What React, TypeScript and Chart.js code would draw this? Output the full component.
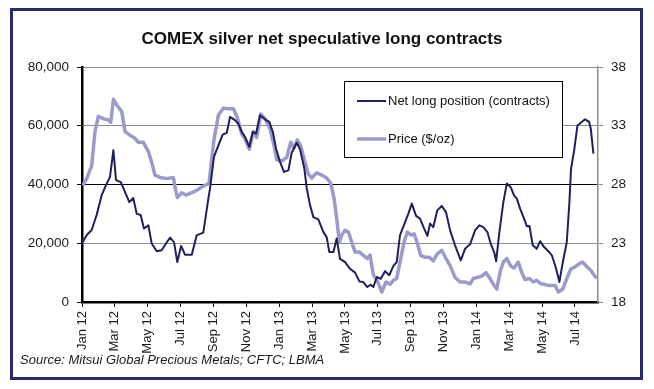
import React, { useEffect, useRef } from "react";
import { Chart, registerables } from "chart.js";

Chart.register(...registerables);

// X positions are months since Jan 2012 (0 = Jan 12)
const xTickMonths = [0, 2, 4, 6, 8, 10, 12, 14, 16, 18, 20, 22, 24, 26, 28, 30];
const xTickLabels = ["Jan 12", "Mar 12", "May 12", "Jul 12", "Sep 12", "Nov 12", "Jan 13", "Mar 13", "May 13", "Jul 13", "Sep 13", "Nov 13", "Jan 14", "Mar 14", "May 14", "Jul 14"];
const leftTicks = [0, 20000, 40000, 60000, 80000];
const rightTicks = [18, 23, 28, 33, 38];

const netMonths = [0, 0.29, 0.59, 0.89, 1.2, 1.46, 1.7, 1.91, 2.07, 2.36,
  2.62, 2.88, 3.12, 3.33, 3.57, 3.77, 4.04, 4.24, 4.55, 4.85,
  5.11, 5.36, 5.6, 5.8, 6.03, 6.27, 6.68, 6.98, 7.38, 7.69,
  7.79, 8.03, 8.3, 8.56, 8.81, 9.01, 9.31, 9.51, 9.72, 9.92,
  10.18, 10.39, 10.59, 10.83, 11.14, 11.4, 11.61, 11.81, 12.05, 12.29,
  12.56, 12.76, 13.07, 13.27, 13.53, 13.68, 13.88, 14.08, 14.38, 14.69,
  14.89, 15.05, 15.3, 15.5, 15.7, 16.01, 16.31, 16.62, 16.88, 17.12,
  17.36, 17.57, 17.73, 17.94, 18.18, 18.44, 18.7, 18.95, 19.15, 19.35,
  19.66, 19.86, 20.07, 20.33, 20.57, 20.82, 21.02, 21.18, 21.38, 21.62,
  21.89, 22.15, 22.4, 22.7, 23.05, 23.31, 23.62, 23.92, 24.18, 24.42,
  24.67, 24.87, 25.08, 25.2, 25.4, 25.64, 25.85, 26.09, 26.29, 26.46,
  26.66, 26.9, 27.07, 27.23, 27.43, 27.67, 27.88, 28.12, 28.38, 28.59,
  28.79, 28.93, 29.05, 29.26, 29.5, 29.66, 29.76, 29.95, 30.15, 30.41,
  30.61, 30.86, 30.96, 31.12];

const netLong = [20000, 22800, 24500, 29600, 36400, 39800, 42500, 51700, 41500, 40800,
  37400, 34000, 35400, 30000, 29600, 25000, 26100, 19900, 17300, 17600,
  19900, 21900, 20400, 13600, 19100, 16100, 16100, 22700, 23600, 35200,
  38600, 49400, 53300, 57000, 57600, 63000, 61900, 60700, 57900, 56200,
  52800, 57900, 57300, 63600, 62200, 61300, 57900, 52200, 47700, 44300,
  44800, 50800, 54200, 52000, 45400, 38600, 32900, 28900, 28100, 23800,
  22100, 17000, 17000, 21600, 14700, 13600, 11300, 10000, 7000, 6800,
  5100, 5900, 5100, 8500, 7900, 10500, 9100, 12300, 13600, 22700,
  27200, 30100, 33500, 29300, 28400, 25000, 22500, 26700, 25500, 31200,
  32700, 30600, 24400, 19300, 14200, 18100, 19700, 24400, 26100, 25500,
  23800, 19850, 17000, 13850, 23800, 34000, 40300, 39100, 36300, 35200,
  31800, 28400, 25800, 25900, 19300, 18100, 20700, 18700, 17300, 15900,
  12500, 9600, 6800, 13600, 20400, 34000, 45400, 51600, 60100, 61300,
  62200, 61300, 59000, 50500];

const priceMonths = [0.04, 0.29, 0.59, 0.79, 0.99, 1.3, 1.6, 1.75, 1.91, 2.15,
  2.42, 2.62, 2.92, 3.16, 3.43, 3.73, 4.04, 4.24, 4.44, 4.75,
  5.15, 5.56, 5.66, 5.8, 6.07, 6.33, 6.68, 6.98, 7.29, 7.59,
  7.73, 7.88, 8.03, 8.3, 8.6, 8.9, 9.21, 9.45, 9.72, 9.92,
  10.18, 10.43, 10.63, 10.88, 11.14, 11.44, 11.69, 11.85, 12.15, 12.46,
  12.7, 12.9, 13.1, 13.31, 13.51, 13.77, 13.98, 14.28, 14.59, 14.89,
  15.14, 15.34, 15.5, 15.66, 15.81, 16.01, 16.21, 16.41, 16.62, 16.88,
  17.12, 17.36, 17.53, 17.73, 17.97, 18.24, 18.5, 18.75, 18.95, 19.15,
  19.35, 19.6, 19.8, 20.01, 20.21, 20.41, 20.61, 20.88, 21.14, 21.38,
  21.62, 21.89, 22.15, 22.4, 22.7, 23.0, 23.31, 23.62, 23.82, 24.06,
  24.33, 24.59, 24.83, 25.08, 25.24, 25.44, 25.64, 25.85, 26.09, 26.29,
  26.55, 26.76, 26.96, 27.23, 27.47, 27.67, 27.91, 28.18, 28.38, 28.59,
  28.79, 28.99, 29.26, 29.5, 29.74, 30.01, 30.31, 30.47, 30.72, 30.96,
  31.16, 31.33];

const price = [27.9, 28.5, 29.6, 32.5, 33.8, 33.6, 33.5, 33.3, 35.25, 34.7,
  34.2, 32.5, 32.2, 32.0, 31.6, 31.6, 30.8, 29.9, 28.8, 28.6,
  28.5, 28.6, 27.8, 26.9, 27.3, 27.1, 27.3, 27.5, 27.8, 28.0,
  28.1, 30.0, 31.8, 33.9, 34.5, 34.45, 34.45, 33.7, 32.3, 31.9,
  31.0, 32.5, 32.0, 34.0, 33.6, 32.75, 31.3, 30.1, 30.0, 30.3,
  31.6, 31.1, 31.8, 31.3, 30.2, 28.9, 28.55, 29.0, 28.8, 28.55,
  28.1, 26.8, 25.1, 23.1, 23.7, 24.1, 23.96, 23.1, 22.25, 22.25,
  21.97, 21.7, 22.0, 20.3, 19.8, 18.85, 19.7, 19.5, 19.85, 20.0,
  21.4, 23.1, 23.96, 23.7, 23.8, 23.0, 21.97, 21.8, 21.8, 21.5,
  22.1, 22.4, 21.7, 21.1, 20.1, 19.7, 19.7, 19.55, 20.0, 20.1,
  20.2, 20.5, 20.0, 19.4, 19.1, 20.55, 21.4, 21.7, 21.06, 20.9,
  21.4, 20.5, 19.9, 20.0, 19.7, 19.85, 19.55, 19.5, 19.4, 19.4,
  19.4, 18.85, 19.1, 20.0, 20.8, 21.0, 21.3, 21.4, 21.0, 20.7,
  20.3, 20.0];

const seriesNames = ["Net long position (contracts)", "Price ($/oz)"];
const titleText = "COMEX silver net speculative long contracts";
const sourceText = "Source: Mitsui Global Precious Metals; CFTC; LBMA";

const NET_COLOR = "#1f1f5e";
const PRICE_COLOR = "#9a9acb";
const FONT = "'Liberation Sans', Arial, sans-serif";

const decoPlugin = {
  id: "deco",
  beforeDraw(chart: any) {
    const ctx = chart.ctx;
    ctx.save();
    ctx.fillStyle = "#ffffff";
    ctx.fillRect(0, 0, chart.width, chart.height);
    ctx.restore();
  },
  afterDraw(chart: any) {
    const ctx = chart.ctx;
    ctx.save();
    // outer frame
    ctx.strokeStyle = "#2b2b68";
    ctx.lineWidth = 3;
    ctx.strokeRect(11.5, 9.5, 630, 369);
    // title
    ctx.fillStyle = "#111111";
    ctx.font = `bold 17px ${FONT}`;
    ctx.textAlign = "center";
    ctx.textBaseline = "middle";
    ctx.fillText(titleText, 322, 39);
    // legend
    ctx.fillStyle = "#ffffff";
    ctx.fillRect(344, 81, 218, 76);
    ctx.strokeStyle = "#000000";
    ctx.lineWidth = 1;
    ctx.strokeRect(344.5, 81.5, 218, 76);
    ctx.lineCap = "butt";
    ctx.strokeStyle = NET_COLOR;
    ctx.lineWidth = 2;
    ctx.beginPath();
    ctx.moveTo(357, 101);
    ctx.lineTo(386, 101);
    ctx.stroke();
    ctx.strokeStyle = PRICE_COLOR;
    ctx.lineWidth = 3.5;
    ctx.beginPath();
    ctx.moveTo(357, 139);
    ctx.lineTo(386, 139);
    ctx.stroke();
    ctx.fillStyle = "#111111";
    ctx.font = `13px ${FONT}`;
    ctx.textAlign = "left";
    ctx.textBaseline = "middle";
    ctx.fillText(seriesNames[0], 388, 101);
    ctx.fillText(seriesNames[1], 388, 139);
    // source
    ctx.font = `italic 13px ${FONT}`;
    ctx.fillStyle = "#1a1a1a";
    ctx.textBaseline = "alphabetic";
    ctx.fillText(sourceText, 20, 364);
    ctx.restore();
  },
};

export default function App() {
  const ref = useRef<HTMLCanvasElement | null>(null);
  useEffect(() => {
    if (!ref.current) return;
    const chart = new Chart(ref.current, {
      type: "line",
      data: {
        datasets: [
          {
            label: seriesNames[0],
            data: netMonths.map((m, i) => ({ x: m, y: netLong[i] })),
            borderColor: NET_COLOR,
            borderWidth: 2,
            pointRadius: 0,
            tension: 0,
            borderJoinStyle: "round",
            yAxisID: "y",
          },
          {
            label: seriesNames[1],
            data: priceMonths.map((m, i) => ({ x: m, y: price[i] })),
            borderColor: PRICE_COLOR,
            borderWidth: 3.5,
            pointRadius: 0,
            tension: 0,
            borderJoinStyle: "round",
            yAxisID: "y1",
          },
        ],
      },
      options: {
        responsive: false,
        animation: false,
        events: [],
        layout: { padding: { top: 67, left: 0, right: 0, bottom: 0 } },
        plugins: { legend: { display: false }, title: { display: false }, tooltip: { enabled: false } },
        scales: {
          x: {
            type: "linear",
            min: 0,
            max: 31.4,
            afterBuildTicks: (scale: any) => {
              scale.ticks = xTickMonths.map((v) => ({ value: v }));
            },
            afterFit: (scale: any) => {
              scale.height = 87;
            },
            ticks: {
              autoSkip: false,
              maxRotation: 90,
              minRotation: 90,
              padding: 4,
              color: "#1a1a1a",
              font: { family: FONT, size: 13 },
              callback: (_v: any, i: number) => xTickLabels[i],
            },
            grid: { drawOnChartArea: false, drawTicks: true, tickLength: 5, tickColor: "#000", tickWidth: 1 },
            border: { color: "#000", width: 2.5 },
          },
          y: {
            position: "left",
            min: 0,
            max: 80000,
            afterBuildTicks: (scale: any) => {
              scale.ticks = leftTicks.map((v) => ({ value: v }));
            },
            afterFit: (scale: any) => {
              scale.width = 82;
            },
            ticks: {
              padding: 8,
              color: "#1a1a1a",
              font: { family: FONT, size: 13.5 },
              callback: (v: any) => Number(v).toLocaleString("en-US"),
            },
            grid: {
              color: (c: any) => (c.tick && c.tick.value === 40000 ? "#000" : "#8c8c8c"),
              lineWidth: 1,
              tickLength: 5,
              tickColor: "#000",
            },
            border: { color: "#000", width: 2.5 },
          },
          y1: {
            position: "right",
            min: 18,
            max: 38,
            afterBuildTicks: (scale: any) => {
              scale.ticks = rightTicks.map((v) => ({ value: v }));
            },
            afterFit: (scale: any) => {
              scale.width = 56;
            },
            ticks: {
              padding: 8,
              color: "#1a1a1a",
              font: { family: FONT, size: 13.5 },
            },
            grid: { drawOnChartArea: false, tickLength: 5, tickColor: "#8c8c8c" },
            border: { color: "#8c8c8c", width: 1.5 },
          },
        },
      },
      plugins: [decoPlugin],
    } as any);
    return () => chart.destroy();
  }, []);
  return (
    <canvas
      ref={ref}
      width={654}
      height={389}
      style={{ position: "absolute", left: 0, top: 0, width: 654, height: 389, display: "block" }}
    />
  );
}
